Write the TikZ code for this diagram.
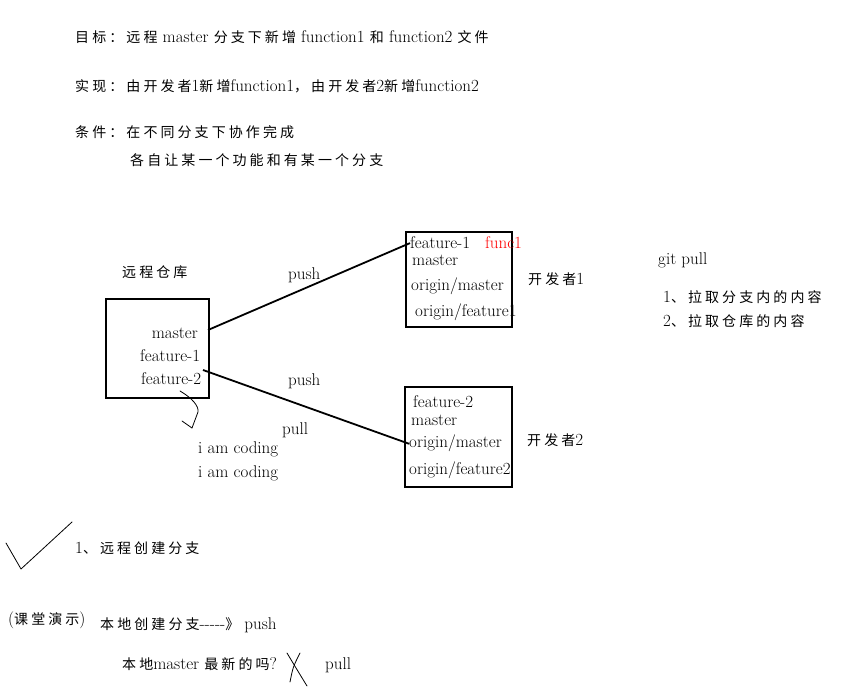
\documentclass[tikz,border=0pt]{standalone}
\usepackage{fontspec}
\newfontfamily\cjk[LetterSpace=22]{Noto Sans CJK SC}
\newcommand\zh[1]{{\cjk\fontsize{14}{18}\selectfont #1}}
\usetikzlibrary{positioning}
\tikzset{
  txt/.style={anchor=base west, inner sep=0pt, font=\fontsize{17}{20}\selectfont},
  box/.style={draw, line width=1.8pt, anchor=north west, inner sep=0pt},
  link/.style={line width=1.8pt},
  hand/.style={line width=0.8pt, line cap=round, line join=round}
}
\begin{document}
\begin{tikzpicture}[x=1pt,y=-1pt]
\useasboundingbox (0,0) rectangle (855,692);
\node[txt] (goal) at (75,43) {\zh{目标：远程} master \zh{分支下新增} function1 \zh{和} function2 \zh{文件}};
\node[txt] (impl) at (75,92) {\zh{实现：由开发者}1\zh{新增}function1\zh{，由开发者}2\zh{新增}function2};
\node[txt] (cond) at (75,138) {\zh{条件：在不同分支下协作完成}};
\node[txt] (cond2) at (130,166) {\zh{各自让某一个功能和有某一个分支}};
% remote repository
\node[txt] (rtitle) at (122,278) {\zh{远程仓库}};
\node[box, minimum width=103pt, minimum height=99pt] (remote) at (105,298) {};
\node[txt, anchor=base east] (rmaster) at (198,339) {master};
\node[txt] (rfeat1) at (140,362) {feature-1};
\node[txt] (rfeat2) at (141,385) {feature-2};
% developer 1
\node[box, minimum width=106pt, minimum height=95pt] (dev1) at (405,231) {};
\node[txt] (d1feat) at (410,249) {feature-1};
\node[txt, text=red] (func1) at (485,249) {func1};
\node[txt] (d1master) at (412,266) {master};
\node[txt] (d1om) at (411,291) {origin/master};
\node[txt] (d1of) at (415,317) {origin/feature1};
\node[txt] (dev1name) at (528,285) {\zh{开发者}1};
% developer 2
\node[box, minimum width=107pt, minimum height=100pt] (dev2) at (404,386) {};
\node[txt] (d2feat) at (413,408) {feature-2};
\node[txt] (d2master) at (411,426) {master};
\node[txt] (d2om) at (409,448) {origin/master};
\node[txt] (d2of) at (409,475) {origin/feature2};
\node[txt] (dev2name) at (527,446) {\zh{开发者}2};
% connectors
\coordinate (r1) at (208,330);
\coordinate (r2) at (203,370);
\draw[link] (r1) -- (d1feat.west);
\draw[link] (r2) -- (d2om.west);
\node[txt] (push1) at (288,280) {push};
\node[txt] (push2) at (288,386) {push};
\node[txt] (pull1) at (282,435) {pull};
% coding
\draw[hand] (180,391) .. controls (192,398) and (199,406) .. (198,412) -- (192,428);
\draw[hand] (182,421) -- (192,428);
\node[txt] (code1) at (198,454) {i am coding};
\node[txt] (code2) at (198,478) {i am coding};
% git pull
\node[txt] (gitpull) at (658,265) {git pull};
\node[txt] (item1) at (663,303) {1\zh{、拉取分支内的内容}};
\node[txt] (item2) at (663,327) {2\zh{、拉取仓库的内容}};
% bottom notes
\draw[hand] (6,543) -- (21,569) -- (72,522);
\node[txt] (step1) at (75,554) {1\zh{、远程创建分支}};
\node[txt] (demo) at (8,625) {(\zh{课堂演示})};
\node[txt] (local) at (100,630) {\zh{本地创建分支}{-}{-}{-}{-}{-}\zh{》} push};
\node[txt] (ask) at (122,670) {\zh{本地}master \zh{最新的吗}?};
\draw[hand] (287,653) .. controls (296,668) .. (307,686);
\draw[hand] (300,653) .. controls (293,667) .. (290,682);
\node[txt] (pull2) at (325,670) {pull};
\end{tikzpicture}
\end{document}
